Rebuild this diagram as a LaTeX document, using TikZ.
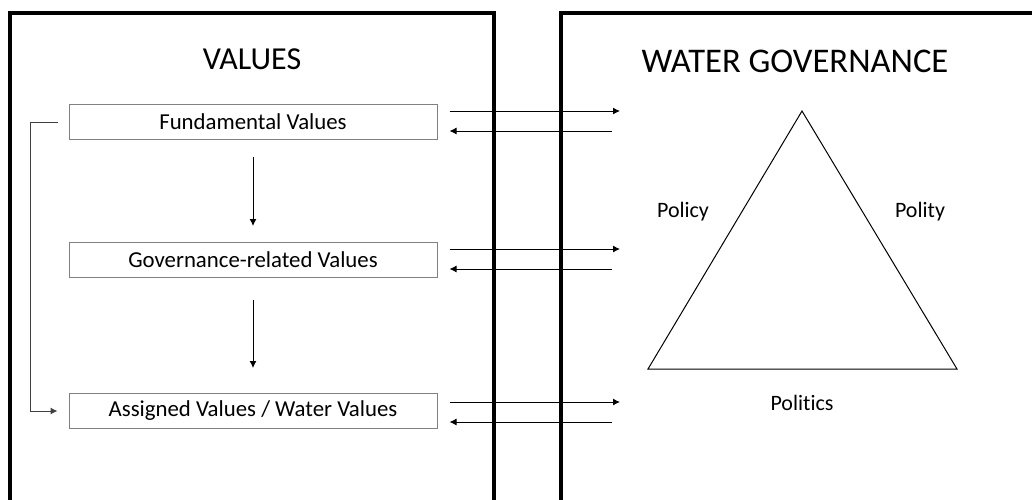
\documentclass[tikz,border=0pt]{standalone}
\usepackage{fontspec}
\setmainfont{Carlito}[Ligatures=NoCommon]
\usetikzlibrary{positioning, calc, arrows.meta}
\tikzstyle{panel} = [line width=2pt]
\tikzstyle{valbox} = [draw=gray, line width=0.5pt, minimum width=184pt, minimum height=17.5pt, inner sep=0pt, font=\fontsize{11.4}{13}\selectfont]
\tikzstyle{paneltitle} = [font=\fontsize{16}{19}\selectfont]
\tikzstyle{govlabel} = [font=\fontsize{11}{13}\selectfont]
\tikzstyle{flow} = [line width=0.5pt,-{Latex[length=3.5pt,width=3.5pt]}]

\begin{document}
\begin{tikzpicture}[x=0.5pt,y=-0.5pt,on grid]
  \useasboundingbox (0,0) rectangle (1032,499);
  \clip (0,0) rectangle (1032,499);
  % the two panels, open at the bottom
  \draw[panel] (10,520) -- (10,13) -- (494,13) -- (494,520);
  \draw[panel] (561,520) -- (561,13) -- (1050,13);
  \node[paneltitle] (values) at (252,59) {VALUES};
  \node[paneltitle,font=\fontsize{17.3}{20}\selectfont] (wgov) at (795,61) {WATER GOVERNANCE};
  % value levels
  \node[valbox] (fv) at (253,122) {Fundamental Values};
  \node[valbox] (gv) [below=69pt of fv] {Governance-related Values};
  \node[valbox] (av) [below=75.5pt of gv] {Assigned Values / Water Values};
  \draw[flow,shorten <=8.5pt,shorten >=8pt] (fv) -- (gv);
  \draw[flow,shorten <=11pt,shorten >=12.5pt] (gv) -- (av);
  \draw[flow,draw=black!75,shorten <=5.5pt,shorten >=5.5pt] (fv.west) -- ++(-38,0) |- (av.west);
  % governance triangle
  \coordinate (apex) at (802,111);
  \coordinate (baseleft) at (648,369);
  \coordinate (baseright) at (957,369);
  \draw[line width=0.5pt] (apex) -- (baseleft) -- (baseright) -- cycle;
  \node[govlabel] (policy) at (683,212) {Policy};
  \node[govlabel] (polity) at (920,212) {Polity};
  \node[govlabel] (politics) at (802,403) {Politics};
  % exchanges between the panels
  \coordinate (in1) at (620,111);
  \coordinate (out1) at (612,131);
  \coordinate (in2) at (620,249);
  \coordinate (out2) at (612,269);
  \coordinate (in3) at (620,402);
  \coordinate (out3) at (612,422);
  \draw[flow,shorten <=6pt] (fv.east |- in1) -- (in1);
  \draw[flow,shorten >=6pt] (out1) -- (fv.east |- out1);
  \draw[flow,shorten <=6pt] (gv.east |- in2) -- (in2);
  \draw[flow,shorten >=6pt] (out2) -- (gv.east |- out2);
  \draw[flow,shorten <=6pt] (av.east |- in3) -- (in3);
  \draw[flow,shorten >=6pt] (out3) -- (av.east |- out3);
\end{tikzpicture}
\end{document}
